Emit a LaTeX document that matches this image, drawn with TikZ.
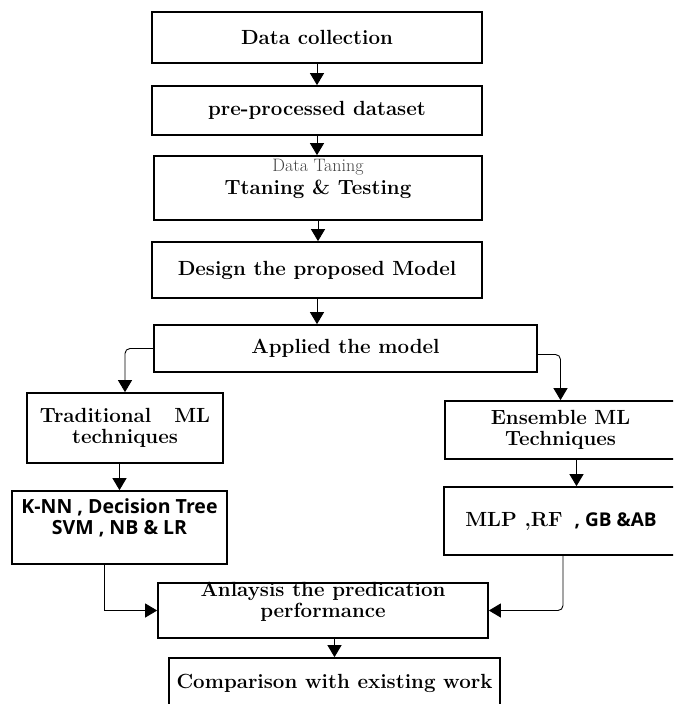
\documentclass[tikz,border=0pt]{standalone}
\usepackage{fontspec}
\newfontfamily\opensans{Open Sans}
\usetikzlibrary{arrows.meta}

\begin{document}
\begin{tikzpicture}[x=1pt, y=-1pt,
    box/.style={shape=rectangle, draw=black, line width=1.7pt, inner sep=0pt},
    txt/.style={align=center, font=\fontsize{20.5}{21}\selectfont\bfseries},
    link/.style={line width=0.9pt, -{Triangle[width=14pt,length=12pt]}}]
    \useasboundingbox (0,0) rectangle (673,704);
    \clip (0,0) rectangle (673,704);
    \node[box, txt, minimum width=330pt, minimum height=51pt] at (317,37.5) (S0) {Data collection};
    \node[box, txt, minimum width=330pt, minimum height=49pt] at (317,110.5) (S1) {pre-processed dataset};
    \node[box, minimum width=328pt, minimum height=64pt] at (318,188) (S2) {};
    \node[txt] at (318,179) (T2) {{\fontsize{18}{18}\selectfont\mdseries\addfontfeature{LetterSpace=18}\color{black!75}Data Taning}\\[2pt]Ttaning \& Testing};
    \node[box, txt, minimum width=330pt, minimum height=56pt] at (317,270) (S3) {Design the proposed Model};
    \node[box, txt, minimum width=383pt, minimum height=47pt] at (345.5,348.5) (S4) {Applied the model};
    \node[box, txt, minimum width=196pt, minimum height=70pt] at (125,428) (S5) {Traditional\ \ \ ML\\techniques};
    \node[box, txt, minimum width=231pt, minimum height=58pt] at (560.5,430) (S6) {Ensemble ML\\Techniques};
    \node[box, minimum width=215pt, minimum height=73pt] at (119.5,527.5) (S7) {};
    \node[txt, font=\fontsize{19.5}{21}\selectfont\bfseries\opensans] at (119.5,518) (T7) {K-NN , Decision Tree\\SVM , NB \& LR};
    \node[box, txt, minimum width=234pt, minimum height=68pt] at (561,521) (S8) {MLP ,RF\hspace{12pt}{\opensans\fontsize{19}{19}\selectfont , GB \&AB}};
    \node[box, minimum width=330pt, minimum height=55pt] at (323,610.5) (S9) {};
    \node[txt] at (323,602) (T9) {Anlaysis the predication\\performance};
    \node[box, minimum width=331pt, minimum height=62pt] at (334.5,689) (S10) {};
    \node[txt] at (334.5,683) (T10) {Comparison with existing work};
    % main chain
    \draw[link] (S0.south) -- (S1.north);
    \draw[link] (S1.south) -- (S1.south |- S2.north);
    \draw[link] (S2.south) -- (S2.south |- S3.north);
    \draw[link] (S3.south) -- (S3.south |- S4.north);
    % two branches
    \draw[link, rounded corners=5pt] (S4.west) -| (S5.north);
    \draw[link, rounded corners=5pt] ([yshift=-6pt]S4.east) -| (S6.north);
    \draw[link] (S5.south -| S7.north) -- (S7.north);
    \draw[link] ([xshift=16pt]S6.south) -- ([xshift=16pt]S6.south |- S8.north);
    % back together
    \draw[link] ([xshift=-15.5pt]S7.south) |- (S9.west);
    \draw[link, rounded corners=5pt] ([xshift=2pt]S8.south) |- (S9.east);
    \draw[link] (S9.south -| S10.north) -- (S10.north);
\end{tikzpicture}
\end{document}
